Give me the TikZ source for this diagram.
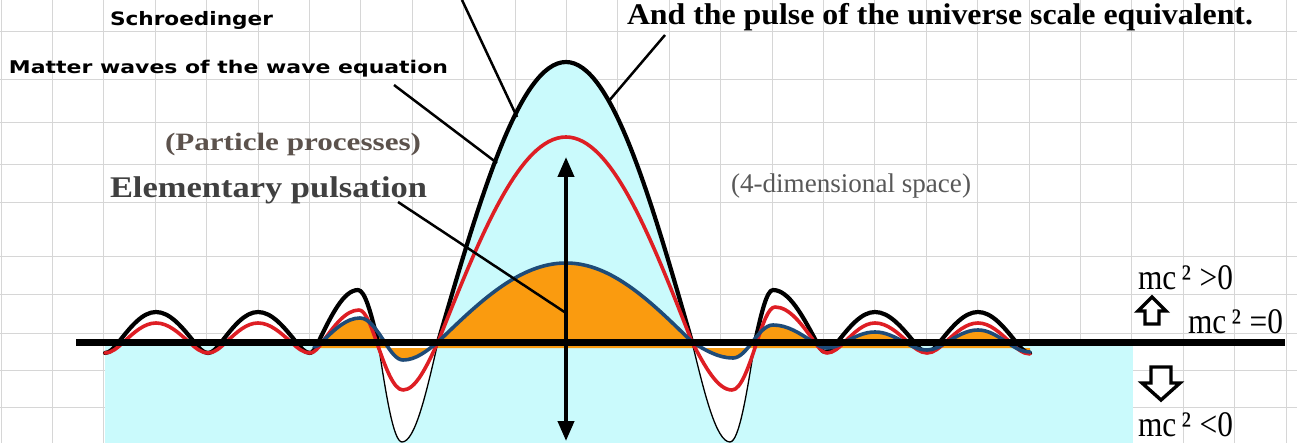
\documentclass[tikz,border=0pt]{standalone}
\usepackage{fontspec}
\usepackage{graphicx}
\usetikzlibrary{arrows.meta}
\newfontfamily\serifL{Liberation Serif}
\newfontfamily\sansD{DejaVu Sans}
\newcommand{\fitw}[2]{\resizebox{#1}{\height}{#2}}
\newcommand{\nodepth}[1]{\raisebox{0pt}[\height][0pt]{#1}}
\definecolor{gridc}{RGB}{214,214,214}
\definecolor{cyanf}{RGB}{202,250,252}
\definecolor{orangef}{RGB}{250,155,15}
\definecolor{bluec}{RGB}{30,75,120}
\definecolor{redc}{RGB}{222,30,36}
\definecolor{partcol}{RGB}{92,82,76}
\definecolor{elemcol}{RGB}{64,64,64}
\definecolor{dimcol}{RGB}{88,88,88}
\begin{document}
\begin{tikzpicture}[x=1pt,y=-1pt,
  gridl/.style={draw=gridc,line width=1pt},
  blk/.style={draw=black,line width=4.2pt,line cap=round,line join=round},
  blkthin/.style={draw=black,line width=1.3pt},
  redl/.style={draw=redc,line width=3.6pt,line cap=round,line join=round},
  bluel/.style={draw=bluec,line width=3.6pt,line cap=round,line join=round},
  axisl/.style={draw=black,line width=7pt},
  conn/.style={draw=black,line width=2.5pt},
  varrow/.style={draw=black,line width=4pt,{Triangle[length=20pt,width=16pt]}-{Triangle[length=20pt,width=16pt]}},
  lbl/.style={anchor=base west,inner sep=0pt,outer sep=0pt},
  blockarrow/.style={draw=black,fill=white,line width=3.4pt,line join=miter}]
\useasboundingbox (0,0) rectangle (1297,443);
\fill[white] (0,0) rectangle (1297,443);
% grid
\foreach \k in {0,...,25} \draw[gridl] ({1+51.4*\k},0) -- ({1+51.4*\k},443);
\foreach \r in {32,80,123,165,203,257,295,333,370,407} \draw[gridl] (0,\r) -- (1297,\r);
% white inside the black curve
\fill[white] (105,353) cos (118.7,342) sin (156,312) cos (194.1,342) sin (208,353) cos (221.4,342) sin (258,312) cos (296.1,342) sin (310,353) cos (318.4,342) sin (358,290) cos (378,342) sin (402,442) cos (438,342) sin (566,62) cos (692,342) sin (730,442) cos (755,342) sin (773,290) cos (816.6,342) sin (825,352) cos (837.5,342) sin (875,312) cos (914,342) sin (927,352) cos (939.75,342) sin (978,312) cos (1016,342) sin (1030,353) -- (1030,342) -- (105,342) -- cycle;
% cyan regions
\fill[cyanf] (105,342) rectangle (1133,443);
\fill[cyanf] (438,342) sin (566,62) cos (692,342) -- cycle;
% white dips
\fill[white] (378,342) sin (402,442) cos (438,342) -- cycle;
\fill[white] (692,342) sin (730,442) cos (755,342) -- cycle;
% orange under the blue curve
\fill[orangef] (314,347) cos (321.9,342) sin (360,318) cos (384.6,342) sin (403,360) cos (438,342) sin (566,263) cos (692,342) sin (733,358) cos (752.4,342) sin (773,325) cos (812.9,342) sin (827,348) cos (845,342) sin (875,332) cos (903.9,342) sin (927,350) cos (947.4,342) sin (978,330) cos (1006.4,342) sin (1030,352) -- (1030,348) -- (314,348) -- cycle;
% black curve
\draw[blk] (105,353) cos (118.7,342) sin (156,312) cos (194.1,342) sin (208,353) cos (221.4,342) sin (258,312) cos (296.1,342) sin (310,353) cos (318.4,342) sin (358,290) cos (378,342);
\draw[blkthin] (378,342) sin (402,442) cos (438,342);
\draw[blk] (438,342) sin (566,62) cos (692,342);
\draw[blkthin] (692,342) sin (730,442) cos (755,342);
\draw[blk] (755,342) sin (773,290) cos (816.6,342) sin (825,352) cos (837.5,342) sin (875,312) cos (914,342) sin (927,352) cos (939.75,342) sin (978,312) cos (1016,342) sin (1030,353);
% red curve
\draw[redl] (105,353) cos (123.7,342) sin (156,323) cos (188.9,342) sin (208,353) cos (226.3,342) sin (258,323) cos (290.9,342) sin (310,353) cos (322.5,342) sin (359,310) cos (376.6,342) sin (403,390) cos (438,342) sin (566,137) cos (692,342) sin (732,390) cos (756.9,342) sin (775,307) cos (814.6,342) sin (827,353) cos (844.6,342) sin (875,323) cos (907.9,342) sin (927,353) cos (945.7,342) sin (978,323) cos (1009.9,342) sin (1030,354);
% blue curve
\draw[bluel] (314,347) cos (321.9,342) sin (360,318) cos (384.6,342) sin (403,360) cos (438,342) sin (566,263) cos (692,342) sin (733,358) cos (752.4,342) sin (773,325) cos (812.9,342) sin (827,348) cos (845,342) sin (875,332) cos (903.9,342) sin (927,350) cos (947.4,342) sin (978,330) cos (1006.4,342) sin (1030,352);
% axis
\coordinate (axL) at (76,342);
\coordinate (axR) at (1285,342);
\draw[axisl] (axL) -- (axR);
% vertical arrow
\coordinate (arT) at (566,157);
\coordinate (arB) at (566,441);
\draw[varrow] (arT) -- (arB);
% labels
\node[lbl] (schr) at (110,26) {\fitw{163pt}{\sansD\bfseries\fontsize{18.5}{19}\selectfont Schroedinger}};
\node[lbl] (matter) at (9,74) {\fitw{439pt}{\sansD\bfseries\fontsize{17.5}{18}\selectfont Matter waves of the wave equation}};
\node[lbl,text=partcol] (part) at (165,151) {\fitw{256pt}{\serifL\bfseries\fontsize{25}{26}\selectfont (Particle processes)}};
\node[lbl,text=elemcol] (elem) at (110,198) {\fitw{317pt}{\serifL\bfseries\fontsize{30}{30}\selectfont Elementary pulsation}};
\node[lbl] (pulse) at (627,25) {\fitw{626pt}{\serifL\bfseries\fontsize{30}{30}\selectfont And the pulse of the universe scale equivalent.}};
\node[lbl,text=dimcol] (dim) at (731,193) {\fitw{240pt}{\serifL\fontsize{27}{27}\selectfont (4-dimensional space)}};
\node[lbl] (mgt) at (1138,290) {\nodepth{\fitw{95pt}{\serifL\fontsize{36}{36}\selectfont mc\,²\;>0}}};
\node[lbl] (meq) at (1188,333) {\nodepth{\fitw{95pt}{\serifL\fontsize{36}{36}\selectfont mc\,²\;=0}}};
\node[lbl] (mlt) at (1138,436) {\nodepth{\fitw{95pt}{\serifL\fontsize{36}{36}\selectfont mc\,²\;<0}}};
% block arrows
\draw[blockarrow] (1152,297) -- (1166,311) -- (1159,311) -- (1159,324) -- (1145,324) -- (1145,311) -- (1138,311) -- cycle;
\draw[blockarrow] (1161,400) -- (1180,383) -- (1171,383) -- (1171,367) -- (1151,367) -- (1151,383) -- (1142,383) -- cycle;
% connectors
\coordinate (c1a) at (462,0);
\coordinate (c1b) at (517,117);
\draw[conn] (c1a) -- (c1b);
\coordinate (c2a) at (394,85);
\coordinate (c2b) at (497,163);
\draw[conn] (c2a) -- (c2b);
\coordinate (c3a) at (398,202);
\coordinate (c3b) at (566,313);
\draw[conn] (c3a) -- (c3b);
\coordinate (c4a) at (665,35);
\coordinate (c4b) at (608,102);
\draw[conn] (c4a) -- (c4b);
\end{tikzpicture}
\end{document}
